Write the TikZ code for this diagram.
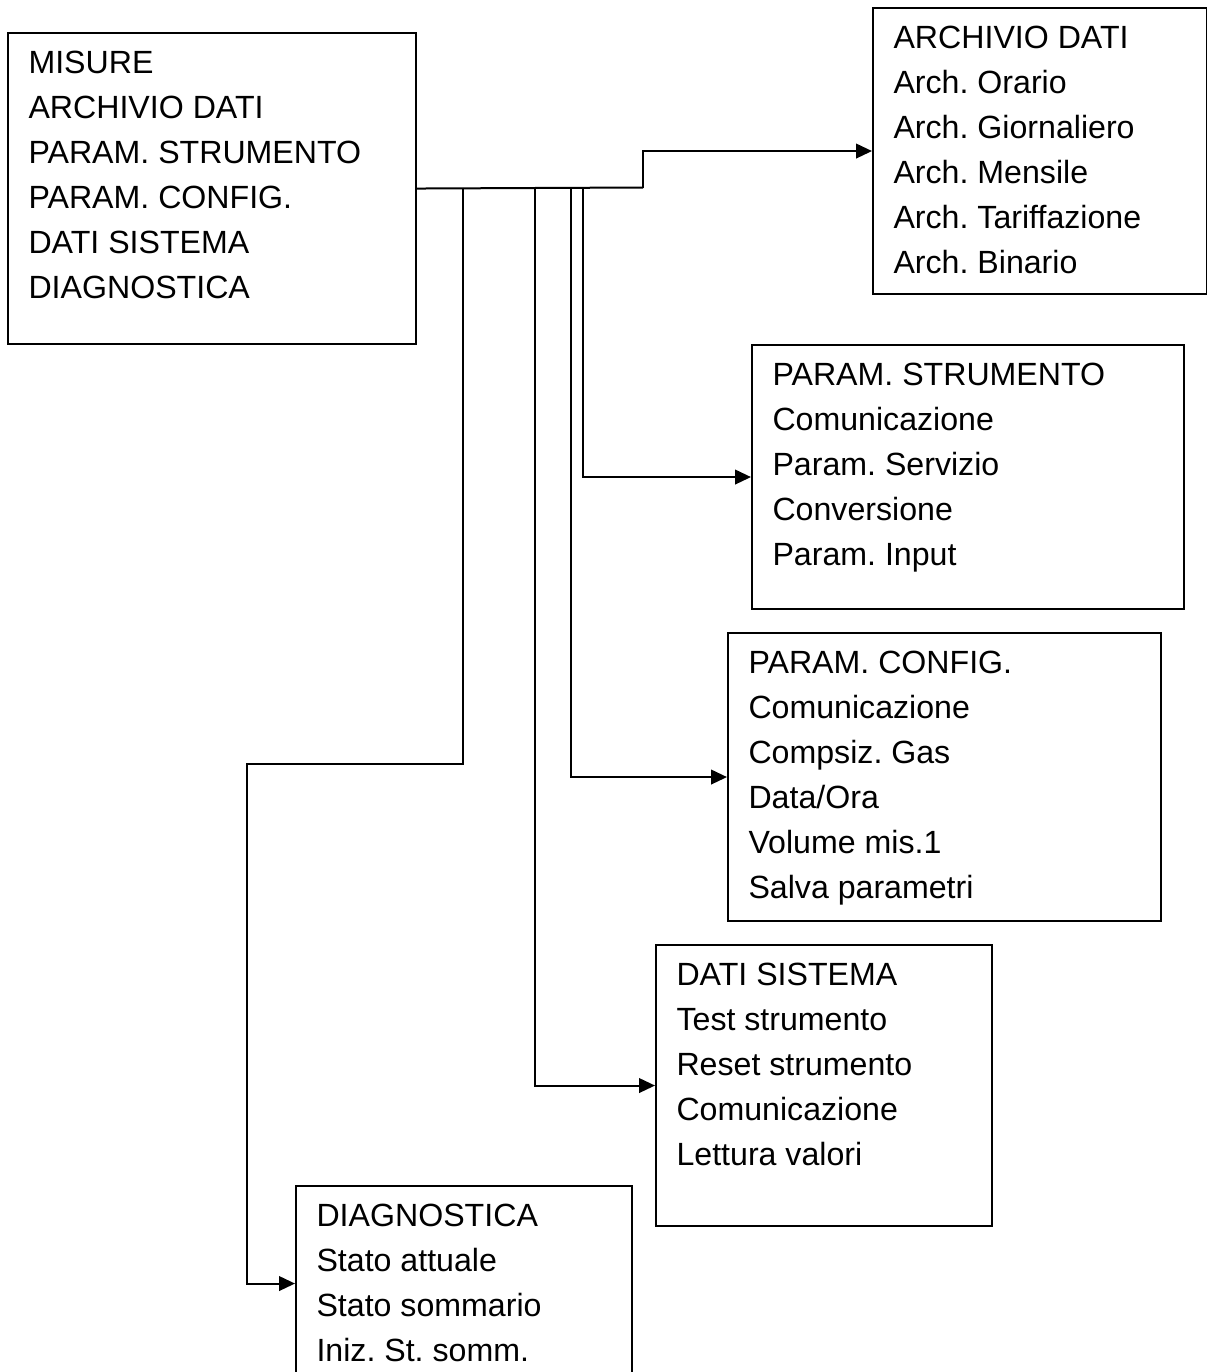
\documentclass[tikz,border=0pt]{standalone}
\usepackage{fontspec}
\setmainfont{Liberation Sans}
\usetikzlibrary{positioning,calc,arrows.meta}
\frenchspacing
\newcommand{\menulines}[3]{\parbox[c][#2][t]{#1}{\raggedright #3}}

\begin{document}
\begin{tikzpicture}[
  x=0.75pt,
  y=-0.75pt,
  menu/.style={draw, line width=1.5pt, anchor=north west,
    inner xsep=15.4pt, inner ysep=13.9pt,
    font=\fontsize{24.1}{33.75}\selectfont},
  link/.style={draw, line width=1.5pt},
  feed/.style={link, -{Triangle[length=12pt,width=11pt]}},
  ]
  \useasboundingbox (0,0) rectangle (1207,1372);
  \clip (0,0) rectangle (1207,1372);

  \node [menu] (misure) at (7,32) {\menulines{275.25pt}{205.5pt}{%
      MISURE\\ARCHIVIO DATI\\PARAM. STRUMENTO\\PARAM. CONFIG.\\DATI SISTEMA\\DIAGNOSTICA}};
  \node [menu] (archivio) at (872,7) {\menulines{219.75pt}{186.75pt}{%
      ARCHIVIO DATI\\Arch. Orario\\Arch. Giornaliero\\Arch. Mensile\\Arch. Tariffazione\\Arch. Binario}};
  \node [menu] (strumento) at (751,344) {\menulines{293.25pt}{170.25pt}{%
      PARAM. STRUMENTO\\Comunicazione\\Param. Servizio\\Conversione\\Param. Input}};
  \node [menu] (config) at (727,632) {\menulines{294pt}{188.25pt}{%
      PARAM. CONFIG.\\Comunicazione\\Compsiz. Gas\\Data/Ora\\Volume mis.1\\Salva parametri}};
  \node [menu] (sistema) at (655,944) {\menulines{221.25pt}{183pt}{%
      DATI SISTEMA\\Test strumento\\Reset strumento\\Comunicazione\\Lettura valori}};
  \node [menu] (diagnostica) at (295,1185) {\menulines{221.25pt}{118.5pt}{%
      DIAGNOSTICA\\Stato attuale\\Stato sommario\\Iniz. St. somm.}};

  \coordinate (diag-split) at (463,187.5);
  \coordinate (sist-split) at (535,187.5);
  \coordinate (conf-split) at (571,187.5);
  \coordinate (strum-split) at (583,187.5);
  \coordinate (arch-step) at (643,187.5);
  \coordinate (diag-bend) at (247,764);

  \draw [link] (misure.east) -- (arch-step);
  \draw [feed] (arch-step) |- (archivio.west);
  \draw [feed] (strum-split) |- (strumento.west);
  \draw [feed] (conf-split) |- (config.west);
  \draw [feed] (sist-split) |- (sistema.west);
  \draw [feed] (diag-split) |- (diag-bend) |- (diagnostica.west);
\end{tikzpicture}
\end{document}
